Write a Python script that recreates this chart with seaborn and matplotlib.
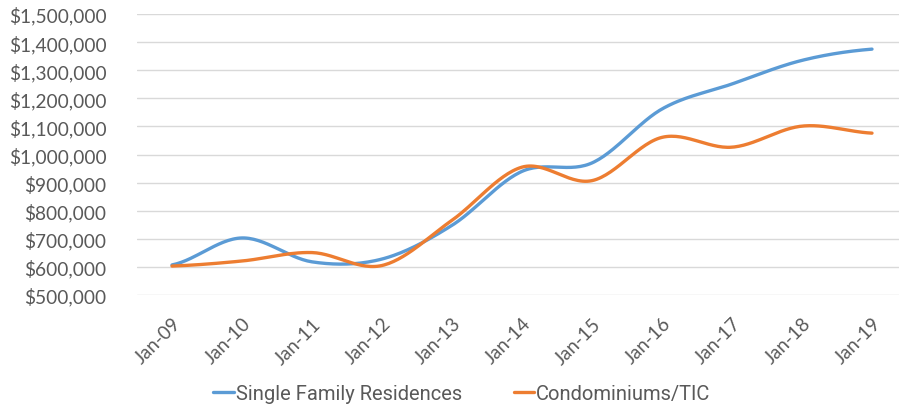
import numpy as np
import pandas as pd
import matplotlib
matplotlib.use("Agg")
import matplotlib.pyplot as plt
import seaborn as sns
from matplotlib import font_manager

categories = ["Jan-09", "Jan-10", "Jan-11", "Jan-12", "Jan-13", "Jan-14",
              "Jan-15", "Jan-16", "Jan-17", "Jan-18", "Jan-19"]
single_family = [607000, 703000, 618000, 628000, 748000, 940000,
                 970000, 1162000, 1251000, 1335000, 1375000]
condos = [603000, 621000, 651000, 605000, 766000, 955000,
          907000, 1061000, 1026000, 1101000, 1076000]
series_names = ["Single Family Residences", "Condominiums/TIC"]
colors = ["#5B9BD5", "#ED7D31"]

sns.set_theme(style="white")
plt.rcParams["font.family"] = ["Lato", "DejaVu Sans"]


def smooth(y, n=30):
    """Excel-style smoothed line (Catmull-Rom Bezier) through the points."""
    y = np.asarray(y, dtype=float)
    x = np.arange(len(y), dtype=float)
    xs, ys = [], []
    for i in range(len(y) - 1):
        p0 = y[i - 1] if i > 0 else y[i]
        p3 = y[i + 2] if i + 2 < len(y) else y[i + 1]
        c1 = y[i] + (y[i + 1] - p0) / 6
        c2 = y[i + 1] - (p3 - y[i]) / 6
        t = np.linspace(0, 1, n, endpoint=(i == len(y) - 2))
        b = ((1 - t) ** 3 * y[i] + 3 * (1 - t) ** 2 * t * c1
             + 3 * (1 - t) * t ** 2 * c2 + t ** 3 * y[i + 1])
        xs.append(x[i] + t)
        ys.append(b)
    return np.concatenate(xs), np.concatenate(ys)


frames = []
for name, vals in zip(series_names, [single_family, condos]):
    sx, sy = smooth(vals)
    frames.append(pd.DataFrame({"x": sx, "value": sy, "series": name}))
df = pd.concat(frames, ignore_index=True)

fig = plt.figure(figsize=(8.99, 4.10), dpi=100)
ax = fig.add_axes([137 / 899, 1 - 296 / 410, 770 / 899, (296 - 15) / 410])

sns.lineplot(data=df, x="x", y="value", hue="series", palette=colors,
             linewidth=2.4, ax=ax, legend=True, sort=False)

ax.set_xlim(-0.5, 10.5)
ax.set_ylim(500000, 1500000)
ax.set_yticks(np.arange(500000, 1500001, 100000))
ax.set_yticklabels([f"${v:,.0f}" for v in np.arange(500000, 1500001, 100000)],
                   fontsize=13.8, color="#595959")
ax.set_xticks(range(len(categories)))
ax.set_xticklabels(categories, rotation=45, ha="right", rotation_mode="anchor",
                   fontsize=13.5, color="#595959")
ax.tick_params(axis="both", length=0)
ax.tick_params(axis="y", pad=22)
ax.tick_params(axis="x", pad=14)
ax.yaxis.grid(True, color="#D9D9D9", linewidth=1)
ax.xaxis.grid(False)
for s in ax.spines.values():
    s.set_visible(False)
ax.set_xlabel("")
ax.set_ylabel("")

names = [f.name for f in font_manager.fontManager.ttflist]
legfam = "Liberation Sans Narrow" if "Liberation Sans Narrow" in names else "Roboto"
handles, labels = ax.get_legend_handles_labels()
ax.legend(handles, labels, loc="center", bbox_to_anchor=(462 / 899, 15 / 410),
          bbox_transform=fig.transFigure, ncol=2, frameon=False,
          prop={"family": legfam, "size": 14.5}, handlelength=1.0,
          handletextpad=0.1, columnspacing=2.6, labelcolor="#595959")

fig.savefig("out.png", dpi=100)
